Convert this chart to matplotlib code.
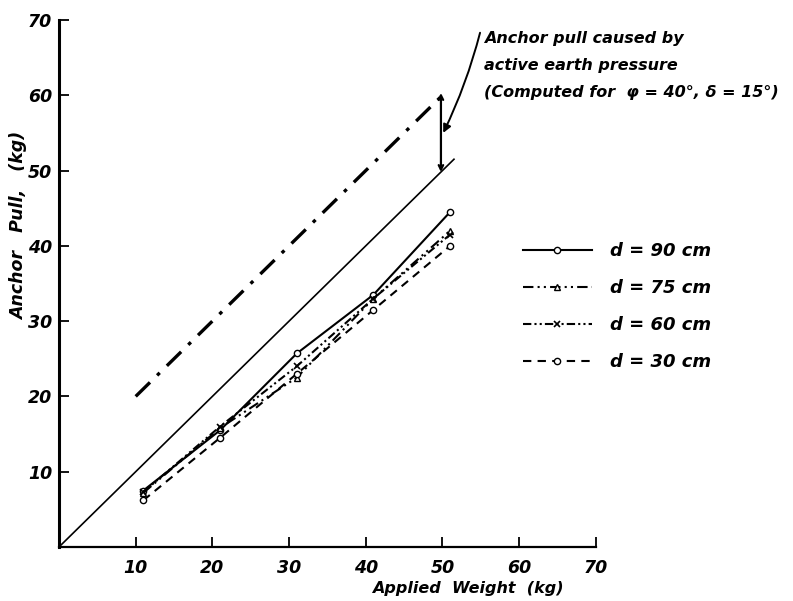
import matplotlib.pyplot as plt

# data
weights = [11, 21, 31, 41, 51]
pull_90 = [7.5, 15.5, 25.7, 33.5, 44.5]
pull_75 = [7.2, 15.8, 22.5, 33.0, 42.0]
pull_60 = [7.3, 16.0, 24.0, 33.0, 41.5]
pull_30 = [6.2, 14.5, 23.0, 31.5, 40.0]

# reference lines
ideal_x = [0, 51.5]
ideal_y = [0, 51.5]
active_x = [10, 50]
active_y = [20, 60]

ticks = [10, 20, 30, 40, 50, 60, 70]

plt.rcParams['font.family'] = 'DejaVu Sans'
fnt = dict(style='italic', weight='bold')

fig = plt.figure(figsize=(7.93, 6.01), dpi=100)
ax = fig.add_axes([0.0744, 0.0899, 0.677, 0.8769])

ax.plot(ideal_x, ideal_y, color='black', lw=1.2)
ax.plot(active_x, active_y, color='black', lw=2.4, linestyle=(0, (6, 3, 1.1, 3)))

ax.plot(weights, pull_90, color='black', lw=1.5, marker='o', ms=4.5,
        mfc='white', mec='black', mew=1, label='d = 90 cm')
ax.plot(weights, pull_75, color='black', lw=1.5, marker='^', ms=5,
        mfc='white', mec='black', mew=1, linestyle=(0, (5, 2, 1, 2, 1, 2)), label='d = 75 cm')
ax.plot(weights, pull_60, color='black', lw=1.5, marker='x', ms=5,
        mec='black', mew=1.2, linestyle=(0, (4, 1.5, 1, 1.5, 1, 1.5)), label='d = 60 cm')
ax.plot(weights, pull_30, color='black', lw=1.5, marker='o', ms=4.5,
        mfc='white', mec='black', mew=1, linestyle=(0, (4, 3)), label='d = 30 cm')

# arrow showing the active earth pressure part
ax.annotate('', xy=(49.8, 49.8), xytext=(49.8, 60.3),
            arrowprops=dict(arrowstyle='<->', color='black', lw=1.6,
                            mutation_scale=8, shrinkA=0, shrinkB=0))
# leader from the note to the arrow
ax.annotate('', xy=(50.1, 55.0), xytext=(54.9, 68.3),
            arrowprops=dict(arrowstyle='-|>', color='black', lw=1.4,
                            mutation_scale=12, shrinkA=0, shrinkB=0,
                            connectionstyle='arc3,rad=-0.05'))
ax.text(55.4, 68.5, 'Anchor pull caused by\nactive earth pressure\n(Computed for  \u03c6 = 40\u00b0, \u03b4 = 15\u00b0)',
        fontsize=11.5, linespacing=2.0, va='top', ha='left', **fnt)

ax.set_xlim(0, 70)
ax.set_ylim(0, 70)
ax.set_xticks(ticks)
ax.set_yticks(ticks)
ax.tick_params(direction='in', length=7, width=1.3, labelsize=12.5)
ax.tick_params(axis='x', pad=9)
ax.tick_params(axis='y', pad=5)
for lab in ax.get_xticklabels() + ax.get_yticklabels():
    lab.set_style('italic')
    lab.set_weight('bold')
for s in ['top', 'right']:
    ax.spines[s].set_visible(False)
ax.spines['left'].set_linewidth(2.2)
ax.spines['bottom'].set_linewidth(1.6)

ax.set_xlabel('Applied  Weight  (kg)', fontsize=11.5, **fnt)
ax.xaxis.set_label_coords(0.762, -0.064)
ax.set_ylabel('Anchor   Pull,   (kg)', fontsize=12.5, **fnt)
ax.yaxis.set_label_coords(-0.058, 0.61)

leg = ax.legend(loc='center left', bbox_to_anchor=(0.639, 0.49), bbox_transform=fig.transFigure,
                frameon=False, handlelength=3.8, labelspacing=1.05, handletextpad=1.0,
                prop=dict(size=13, style='italic', weight='bold', family='DejaVu Sans'))

fig.savefig('out.png', dpi=100, facecolor='white')
